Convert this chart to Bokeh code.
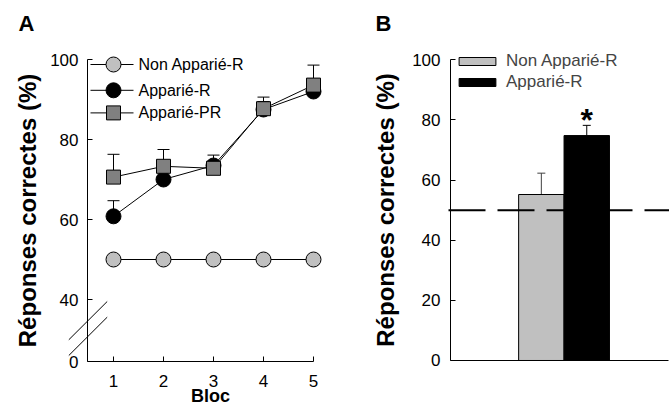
from bokeh.plotting import figure
from bokeh.layouts import row
from bokeh.models import ColumnDataSource, FixedTicker
from bokeh.embed import file_html
from bokeh.resources import INLINE
from bokeh.core.properties import value

# ---------------- data ----------------
blocs = [1, 2, 3, 4, 5]
non_appariee_r = [50, 50, 50, 50, 50]
appariee_r = [60.8, 70.0, 73.5, 87.5, 92.0]
appariee_r_err = [3.9, 2.5, 2.6, 2.0, 2.0]
appariee_pr = [70.6, 73.3, 72.8, 87.7, 93.6]
appariee_pr_err = [5.7, 4.2, 0.8, 2.9, 5.0]
a_series = ["Non Apparié-R", "Apparié-R", "Apparié-PR"]
a_ytick_values = [0, 40, 60, 80, 100]

b_groups = ["Non Apparié-R", "Apparié-R"]
b_means = [55.2, 74.8]
b_errs = [7.1, 3.4]
b_ytick_values = [0, 20, 40, 60, 80, 100]
chance_level = 50

# ---------------- style / layout constants ----------------
FONT = "Liberation Sans"
AXIS_FLOOR = 24.5      # broken axis: value 0 drawn at this height in panel A
A_X0 = 0.48            # left end of panel A's x axis
LIGHT = "#c0c0c0"
MID = "#808080"
Y_LABEL = "Réponses correctes (%)"

# panel A annotations (data units of panel A)
LEG_ROWS = [98.75, 92.3, 86.65]
LEG_LINE = (0.54, 1.40)
LEG_MARK_X = 1.0
LEG_TEXT_X = 1.5
BREAK_X = (0.106, 0.874)
BREAK_Y = [(29.93, 39.5), (26.0, 35.58)]
A_LETTER = (-0.9, 108.9)
BLOC_POS = (2.94, 16.0)

# panel B annotations (data units of panel B)
B_LETTER = (-1.65, 112.0)
CHANCE_X = (-0.044, 4.82)


def style_axis(ax, standoff):
    ax.axis_line_color = "black"
    ax.axis_line_width = 1
    ax.major_tick_in = 5
    ax.major_tick_out = 0
    ax.major_tick_line_color = "black"
    ax.minor_tick_line_color = None
    ax.major_label_text_font = FONT
    ax.major_label_text_font_size = "17px"
    ax.major_label_text_color = "black"
    ax.major_label_standoff = standoff
    ax.axis_label_text_font = FONT
    ax.axis_label_text_font_style = "bold"
    ax.axis_label_text_color = "black"


def err_bars(p, x, y, e, color, cap):
    top = [a + b for a, b in zip(y, e)]
    p.segment(x0=x, y0=y, x1=x, y1=top, line_color=color, line_width=1)
    p.scatter(x=x, y=top, marker="dash", size=cap, line_color=color, line_width=1)


def bold_text(p, x, y, txt, size, align="left"):
    p.text(x=[x], y=[y], text=[txt], text_font=value(FONT), text_font_style="bold",
           text_font_size=size, text_align=align, text_baseline="middle",
           text_color="black")


# ---------------- panel A ----------------
pa = figure(width=340, height=410, x_range=(-1.26, 5.54), y_range=(12.25, 114.75),
            output_backend="svg", toolbar_location=None, title=None, min_border=0,
            min_border_left=0, min_border_right=0, min_border_top=0, min_border_bottom=0)
pa.outline_line_color = None
pa.grid.visible = False

style_axis(pa.xaxis[0], 13)
pa.xaxis[0].ticker = FixedTicker(ticks=blocs, minor_ticks=[])
pa.xaxis[0].bounds = (A_X0, 5)
pa.xaxis[0].fixed_location = AXIS_FLOOR

a_ytick_pos = [AXIS_FLOOR if v == 0 else v for v in a_ytick_values]
style_axis(pa.yaxis[0], 9)
pa.yaxis[0].ticker = FixedTicker(ticks=a_ytick_pos, minor_ticks=[])
pa.yaxis[0].major_label_overrides = {p: str(v) for p, v in zip(a_ytick_pos, a_ytick_values)}
pa.yaxis[0].bounds = (AXIS_FLOOR, 100)
pa.yaxis[0].fixed_location = A_X0
pa.yaxis[0].axis_label = Y_LABEL
pa.yaxis[0].axis_label_text_font_size = "24px"
pa.yaxis[0].axis_label_standoff = 6

# axis-break marks
for y0, y1 in BREAK_Y:
    pa.segment(x0=[BREAK_X[0]], y0=[y0], x1=[BREAK_X[1]], y1=[y1],
               line_color="black", line_width=1)

pa.line(blocs, non_appariee_r, line_color="black", line_width=1)
pa.scatter(blocs, non_appariee_r, marker="circle", size=15,
           fill_color=LIGHT, line_color="black", line_width=1)
err_bars(pa, blocs, appariee_r, appariee_r_err, "black", 12)
pa.line(blocs, appariee_r, line_color="black", line_width=1)
pa.scatter(blocs, appariee_r, marker="circle", size=15,
           fill_color="black", line_color="black", line_width=1)
err_bars(pa, blocs, appariee_pr, appariee_pr_err, "black", 12)
pa.line(blocs, appariee_pr, line_color="black", line_width=1)
pa.scatter(blocs, appariee_pr, marker="square", size=14,
           fill_color=MID, line_color="black", line_width=1)

# legend of panel A
leg_markers = ["circle", "circle", "square"]
leg_sizes = [15, 15, 14]
leg_fills = [LIGHT, "black", MID]
n = len(a_series)
pa.segment(x0=[LEG_LINE[0]] * n, y0=LEG_ROWS, x1=[LEG_LINE[1]] * n, y1=LEG_ROWS,
           line_color="black", line_width=1)
for yy, mk, sz, fc in zip(LEG_ROWS, leg_markers, leg_sizes, leg_fills):
    pa.scatter([LEG_MARK_X], [yy], marker=mk, size=sz, fill_color=fc,
               line_color="black", line_width=1)
pa.text(x=[LEG_TEXT_X] * n, y=LEG_ROWS, text=a_series, text_font=value(FONT),
        text_font_size="16px", text_baseline="middle", text_align="left",
        text_color="black")

bold_text(pa, A_LETTER[0], A_LETTER[1], "A", "22px")
bold_text(pa, BLOC_POS[0], BLOC_POS[1], "Bloc", "18px", align="center")

# ---------------- panel B ----------------
pb = figure(width=329, height=410, x_range=(-2.422, 4.822), y_range=(-16.63, 119.72),
            output_backend="svg", toolbar_location=None, title=None, min_border=0,
            min_border_left=0, min_border_right=0, min_border_top=0, min_border_bottom=0)
pb.outline_line_color = None
pb.grid.visible = False

bar_x = [i + 2 for i in range(len(b_groups))]
src = ColumnDataSource(dict(x=bar_x, top=b_means, group=b_groups,
                            color=[LIGHT, "black"],
                            err_top=[m + e for m, e in zip(b_means, b_errs)],
                            err_color=["#404040", "black"]))
pb.segment(x0="x", y0="top", x1="x", y1="err_top", line_color="err_color",
           line_width=1, source=src)
pb.scatter(x="x", y="err_top", marker="dash", size=8, line_color="err_color",
           line_width=1, source=src)
pb.vbar(x="x", top="top", width=1, fill_color="color", line_color="black",
        line_width=1, legend_field="group", source=src)

# chance level
pb.segment(x0=[CHANCE_X[0]], y0=[chance_level], x1=[CHANCE_X[1]], y1=[chance_level],
           line_color="black", line_width=2, line_dash="37 12")

pb.text(x=[bar_x[1]], y=[b_means[1] + b_errs[1]], text=["*"], text_font=value(FONT),
        text_font_style="bold", text_font_size="32px", text_align="center",
        text_baseline="alphabetic", y_offset=-5, text_color="black")

style_axis(pb.xaxis[0], 5)
pb.xaxis[0].ticker = FixedTicker(ticks=[], minor_ticks=[])
pb.xaxis[0].bounds = (0, 4.8)
pb.xaxis[0].fixed_location = 0
style_axis(pb.yaxis[0], 10)
pb.yaxis[0].ticker = FixedTicker(ticks=b_ytick_values, minor_ticks=[])
pb.yaxis[0].bounds = (0, 100)
pb.yaxis[0].fixed_location = 0
pb.yaxis[0].axis_label = Y_LABEL
pb.yaxis[0].axis_label_text_font_size = "24px"
pb.yaxis[0].axis_label_standoff = 10

leg_b = pb.legend[0]
leg_b.location = (114, 318)
leg_b.glyph_width = 46
leg_b.glyph_height = 10
leg_b.spacing = 1
leg_b.label_standoff = 6
leg_b.padding = 0
leg_b.margin = 0
leg_b.border_line_color = None
leg_b.background_fill_alpha = 0
leg_b.label_text_font = FONT
leg_b.label_text_font_size = "17px"
leg_b.label_height = 20

bold_text(pb, B_LETTER[0], B_LETTER[1], "B", "22px")

layout = row(pa, pb)
open("out.html", "w").write(file_html(layout, INLINE))
